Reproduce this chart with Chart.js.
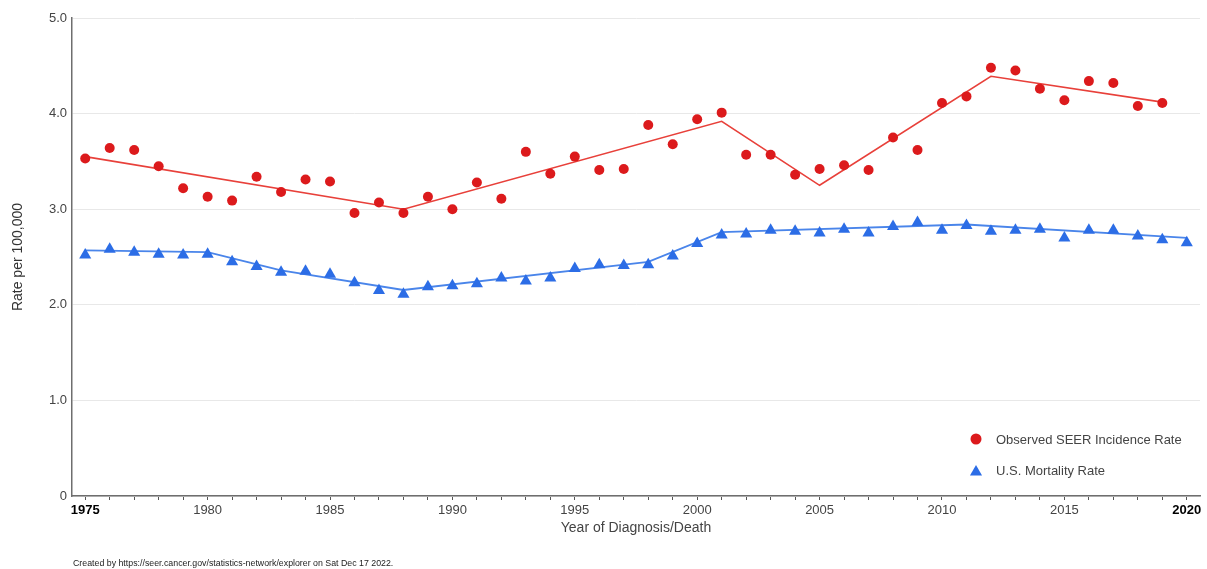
<!DOCTYPE html>
<html>
<head>
<meta charset="utf-8">
<script src="https://cdn.jsdelivr.net/npm/chart.js@4.4.1/dist/chart.umd.min.js"></script>
<style>
  html, body { margin: 0; padding: 0; background: #ffffff; }
  #wrap { width: 1207px; height: 569px; position: relative; }
</style>
</head>
<body>
<div id="wrap"><canvas id="chart" width="1207" height="569"></canvas></div>
<script>
// Observed SEER incidence (per 100,000), diagnosis years 1975-2019
const incidenceYears = [1975,1976,1977,1978,1979,1980,1981,1982,1983,1984,1985,1986,1987,1988,1989,
  1990,1991,1992,1993,1994,1995,1996,1997,1998,1999,2000,2001,2002,2003,2004,2005,2006,2007,2008,2009,
  2010,2011,2012,2013,2014,2015,2016,2017,2018,2019];
const incidenceRates = [3.53,3.64,3.62,3.45,3.22,3.13,3.09,3.34,3.18,3.31,3.29,2.96,3.07,2.96,3.13,
  3.00,3.28,3.11,3.60,3.37,3.55,3.41,3.42,3.88,3.68,3.94,4.01,3.57,3.57,3.36,3.42,3.46,3.41,3.75,3.62,
  4.11,4.18,4.48,4.45,4.26,4.14,4.34,4.32,4.08,4.11];

// Joinpoint fit of incidence
const incidenceTrendYears = [1975, 1988, 2001, 2005, 2012, 2019];
const incidenceTrendRates = [3.55, 3.00, 3.92, 3.25, 4.39, 4.12];

// U.S. mortality (per 100,000), death years 1975-2020
const mortalityYears = [1975,1976,1977,1978,1979,1980,1981,1982,1983,1984,1985,1986,1987,1988,1989,
  1990,1991,1992,1993,1994,1995,1996,1997,1998,1999,2000,2001,2002,2003,2004,2005,2006,2007,2008,2009,
  2010,2011,2012,2013,2014,2015,2016,2017,2018,2019,2020];
const mortalityRates = [2.52,2.58,2.55,2.53,2.52,2.53,2.45,2.40,2.34,2.35,2.32,2.23,2.15,2.11,2.19,
  2.20,2.22,2.28,2.25,2.28,2.38,2.42,2.41,2.42,2.51,2.64,2.73,2.74,2.78,2.77,2.75,2.79,2.75,2.82,2.86,
  2.78,2.83,2.77,2.78,2.79,2.70,2.78,2.78,2.72,2.68,2.65];

// Joinpoint fit of mortality
const mortalityTrendYears = [1975, 1980, 1983, 1988, 1998, 2001, 2011, 2020];
const mortalityTrendRates = [2.57, 2.55, 2.36, 2.155, 2.45, 2.76, 2.84, 2.70];

// Axis ticks: one mark per year, labels every five years
const xTickYears = [1975,1976,1977,1978,1979,1980,1981,1982,1983,1984,1985,1986,1987,1988,1989,
  1990,1991,1992,1993,1994,1995,1996,1997,1998,1999,2000,2001,2002,2003,2004,2005,2006,2007,2008,2009,
  2010,2011,2012,2013,2014,2015,2016,2017,2018,2019,2020];
const xTickLabels = { 1975: '1975', 1980: '1980', 1985: '1985', 1990: '1990', 1995: '1995', 2000: '2000',
  2005: '2005', 2010: '2010', 2015: '2015', 2020: '2020' };
const xBoldLabels = [1975, 2020];
const yTickLabels = { 0: '0', 1: '1.0', 2: '2.0', 3: '3.0', 4: '4.0', 5: '5.0' };

const seriesNames = ['Observed SEER Incidence Rate', 'U.S. Mortality Rate'];
const footerText = 'Created by https://seer.cancer.gov/statistics-network/explorer on Sat Dec 17 2022.';

const RED = '#dc1a1c';
const RED_LINE = '#e8403a';
const BLUE = '#2c6de6';
const BLUE_LINE = '#4a85ea';
const FONT = "'Liberation Sans', Arial, sans-serif";

const toPoints = (xs, ys) => xs.map((x, i) => ({ x: x, y: ys[i] }));
const isBold = (c) => !!(c.tick && xBoldLabels.includes(c.tick.value));

Chart.defaults.font.family = FONT;

// Legend inside the lower-right of the plot area, plus the credit line
const cornerLegend = {
  id: 'cornerLegend',
  afterDraw(chart) {
    const ctx = chart.ctx;
    const entries = [
      { ds: chart.data.datasets[0], y: 440 },
      { ds: chart.data.datasets[1], y: 471 }
    ];
    ctx.save();
    entries.forEach((e) => {
      const tri = e.ds.pointStyle === 'triangle';
      const cx = 976, cy = e.y + (tri ? 1 : -1);
      ctx.fillStyle = e.ds.backgroundColor;
      ctx.beginPath();
      if (tri) {
        const r = 7;
        ctx.moveTo(cx, cy - r);
        ctx.lineTo(cx + r * Math.sin(2 * Math.PI / 3), cy + r / 2);
        ctx.lineTo(cx - r * Math.sin(2 * Math.PI / 3), cy + r / 2);
        ctx.closePath();
      } else {
        ctx.arc(cx, cy, 5.5, 0, Math.PI * 2);
      }
      ctx.fill();
      ctx.fillStyle = '#444444';
      ctx.font = '13px ' + FONT;
      ctx.textBaseline = 'middle';
      ctx.textAlign = 'left';
      ctx.fillText(e.ds.label, 996, e.y);
    });
    ctx.fillStyle = '#222222';
    ctx.font = '8.8px ' + FONT;
    ctx.textBaseline = 'alphabetic';
    ctx.fillText(footerText, 73, 566);
    ctx.restore();
  }
};

new Chart(document.getElementById('chart'), {
  type: 'scatter',
  data: {
    datasets: [
      {
        label: seriesNames[0],
        data: toPoints(incidenceYears, incidenceRates),
        pointStyle: 'circle',
        pointRadius: 5,
        pointBorderWidth: 0,
        backgroundColor: RED,
        borderColor: RED,
        order: 0
      },
      {
        label: seriesNames[1],
        data: toPoints(mortalityYears, mortalityRates),
        pointStyle: 'triangle',
        pointRadius: 7,
        pointBorderWidth: 0,
        backgroundColor: BLUE,
        borderColor: BLUE,
        order: 1
      },
      {
        label: 'incidence trend',
        data: toPoints(incidenceTrendYears, incidenceTrendRates),
        showLine: true,
        pointRadius: 0,
        borderColor: RED_LINE,
        borderWidth: 1.6,
        tension: 0,
        order: 2
      },
      {
        label: 'mortality trend',
        data: toPoints(mortalityTrendYears, mortalityTrendRates),
        showLine: true,
        pointRadius: 0,
        borderColor: BLUE_LINE,
        borderWidth: 1.8,
        tension: 0,
        order: 3
      }
    ]
  },
  options: {
    responsive: false,
    animation: false,
    events: [],
    layout: { padding: { left: 0, right: 0, top: 18, bottom: 26 } },
    plugins: {
      legend: { display: false },
      tooltip: { enabled: false }
    },
    scales: {
      x: {
        type: 'linear',
        min: 1974.46,
        max: 2020.54,
        bounds: 'data',
        afterBuildTicks: (scale) => { scale.ticks = xTickYears.map((v) => ({ value: v })); },
        afterFit: (scale) => { scale.height = 47; },
        grid: {
          drawOnChartArea: false,
          drawTicks: true,
          tickLength: 4,
          tickColor: '#555555',
          tickWidth: 1
        },
        border: { display: true, color: '#6e6e6e', width: 1.5 },
        ticks: {
          autoSkip: false,
          maxRotation: 0,
          padding: 3,
          callback: (v) => xTickLabels[v] || '',
          color: (c) => (isBold(c) ? '#000000' : '#444444'),
          font: (c) => ({ size: 13, family: FONT, weight: isBold(c) ? 'bold' : 'normal' })
        },
        title: {
          display: true,
          text: 'Year of Diagnosis/Death',
          color: '#444444',
          font: { size: 14 },
          padding: { top: 1, bottom: 6 }
        }
      },
      y: {
        min: 0,
        max: 5,
        afterFit: (scale) => { scale.width = 72; },
        grid: {
          color: '#e8e8e8',
          lineWidth: 1,
          drawTicks: false
        },
        border: { display: true, color: '#6e6e6e', width: 1.5 },
        ticks: {
          stepSize: 1,
          padding: 5,
          color: '#444444',
          font: { size: 13 },
          callback: (v) => yTickLabels[v]
        },
        title: {
          display: true,
          text: 'Rate per 100,000',
          color: '#333333',
          font: { size: 14 },
          padding: { top: 10, bottom: 4 }
        }
      }
    }
  },
  plugins: [cornerLegend]
});
</script>
</body>
</html>
